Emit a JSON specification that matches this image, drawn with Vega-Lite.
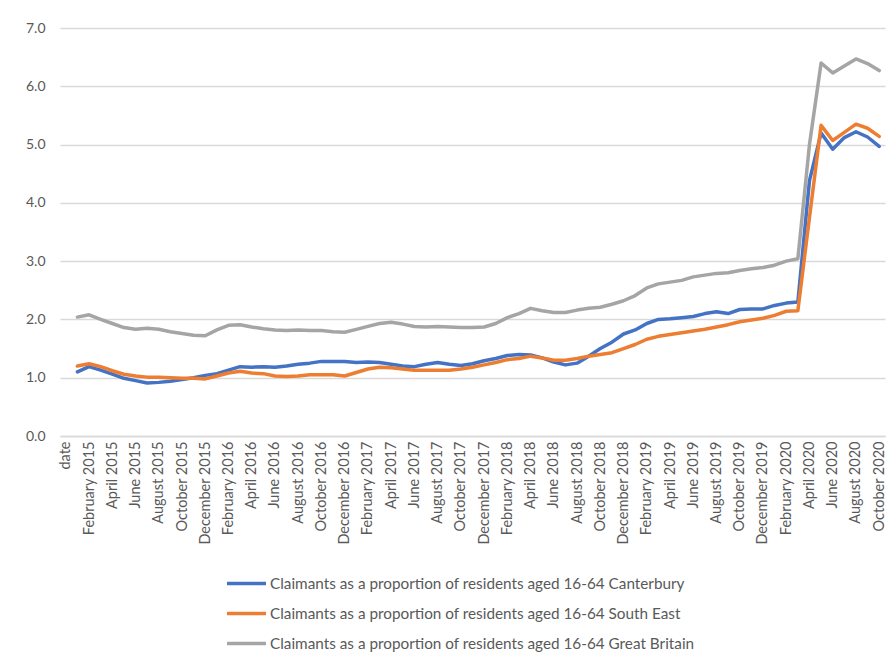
{
  "$schema": "https://vega.github.io/schema/vega-lite/v6.json",
  "width": 825,
  "height": 408,
  "autosize": "none",
  "padding": {"left": 60, "top": 28, "right": 8, "bottom": 228},
  "background": "white",
  "config": {
    "font": "Lato",
    "view": {"stroke": null},
    "axis": {"labelColor": "#595959", "labelFont": "Lato", "labelFontSize": 14}
  },
  "data": {
    "values": [
      {"month": "January 2015", "Canterbury": 1.10, "South East": 1.20, "Great Britain": 2.04},
      {"month": "February 2015", "Canterbury": 1.19, "South East": 1.24, "Great Britain": 2.08},
      {"month": "March 2015", "Canterbury": 1.13, "South East": 1.19, "Great Britain": 2.00},
      {"month": "April 2015", "Canterbury": 1.06, "South East": 1.12, "Great Britain": 1.93},
      {"month": "May 2015", "Canterbury": 0.99, "South East": 1.06, "Great Britain": 1.86},
      {"month": "June 2015", "Canterbury": 0.95, "South East": 1.03, "Great Britain": 1.83},
      {"month": "July 2015", "Canterbury": 0.91, "South East": 1.01, "Great Britain": 1.85},
      {"month": "August 2015", "Canterbury": 0.92, "South East": 1.01, "Great Britain": 1.83},
      {"month": "September 2015", "Canterbury": 0.94, "South East": 1.00, "Great Britain": 1.79},
      {"month": "October 2015", "Canterbury": 0.97, "South East": 0.99, "Great Britain": 1.76},
      {"month": "November 2015", "Canterbury": 1.00, "South East": 0.99, "Great Britain": 1.73},
      {"month": "December 2015", "Canterbury": 1.04, "South East": 0.98, "Great Britain": 1.72},
      {"month": "January 2016", "Canterbury": 1.07, "South East": 1.03, "Great Britain": 1.82},
      {"month": "February 2016", "Canterbury": 1.13, "South East": 1.08, "Great Britain": 1.90},
      {"month": "March 2016", "Canterbury": 1.19, "South East": 1.11, "Great Britain": 1.91},
      {"month": "April 2016", "Canterbury": 1.18, "South East": 1.08, "Great Britain": 1.87},
      {"month": "May 2016", "Canterbury": 1.19, "South East": 1.07, "Great Britain": 1.84},
      {"month": "June 2016", "Canterbury": 1.18, "South East": 1.03, "Great Britain": 1.82},
      {"month": "July 2016", "Canterbury": 1.20, "South East": 1.02, "Great Britain": 1.81},
      {"month": "August 2016", "Canterbury": 1.23, "South East": 1.03, "Great Britain": 1.82},
      {"month": "September 2016", "Canterbury": 1.25, "South East": 1.05, "Great Britain": 1.81},
      {"month": "October 2016", "Canterbury": 1.28, "South East": 1.05, "Great Britain": 1.81},
      {"month": "November 2016", "Canterbury": 1.28, "South East": 1.05, "Great Britain": 1.79},
      {"month": "December 2016", "Canterbury": 1.28, "South East": 1.03, "Great Britain": 1.78},
      {"month": "January 2017", "Canterbury": 1.26, "South East": 1.09, "Great Britain": 1.83},
      {"month": "February 2017", "Canterbury": 1.27, "South East": 1.15, "Great Britain": 1.88},
      {"month": "March 2017", "Canterbury": 1.26, "South East": 1.18, "Great Britain": 1.93},
      {"month": "April 2017", "Canterbury": 1.23, "South East": 1.17, "Great Britain": 1.95},
      {"month": "May 2017", "Canterbury": 1.20, "South East": 1.15, "Great Britain": 1.92},
      {"month": "June 2017", "Canterbury": 1.19, "South East": 1.13, "Great Britain": 1.88},
      {"month": "July 2017", "Canterbury": 1.23, "South East": 1.13, "Great Britain": 1.87},
      {"month": "August 2017", "Canterbury": 1.26, "South East": 1.13, "Great Britain": 1.88},
      {"month": "September 2017", "Canterbury": 1.23, "South East": 1.13, "Great Britain": 1.87},
      {"month": "October 2017", "Canterbury": 1.21, "South East": 1.15, "Great Britain": 1.86},
      {"month": "November 2017", "Canterbury": 1.24, "South East": 1.18, "Great Britain": 1.86},
      {"month": "December 2017", "Canterbury": 1.29, "South East": 1.22, "Great Britain": 1.87},
      {"month": "January 2018", "Canterbury": 1.33, "South East": 1.26, "Great Britain": 1.93},
      {"month": "February 2018", "Canterbury": 1.38, "South East": 1.31, "Great Britain": 2.03},
      {"month": "March 2018", "Canterbury": 1.40, "South East": 1.33, "Great Britain": 2.10},
      {"month": "April 2018", "Canterbury": 1.39, "South East": 1.37, "Great Britain": 2.19},
      {"month": "May 2018", "Canterbury": 1.34, "South East": 1.34, "Great Britain": 2.15},
      {"month": "June 2018", "Canterbury": 1.27, "South East": 1.30, "Great Britain": 2.12},
      {"month": "July 2018", "Canterbury": 1.22, "South East": 1.30, "Great Britain": 2.12},
      {"month": "August 2018", "Canterbury": 1.25, "South East": 1.33, "Great Britain": 2.16},
      {"month": "September 2018", "Canterbury": 1.37, "South East": 1.37, "Great Britain": 2.19},
      {"month": "October 2018", "Canterbury": 1.50, "South East": 1.40, "Great Britain": 2.21},
      {"month": "November 2018", "Canterbury": 1.61, "South East": 1.43, "Great Britain": 2.26},
      {"month": "December 2018", "Canterbury": 1.75, "South East": 1.50, "Great Britain": 2.32},
      {"month": "January 2019", "Canterbury": 1.82, "South East": 1.57, "Great Britain": 2.41},
      {"month": "February 2019", "Canterbury": 1.93, "South East": 1.66, "Great Britain": 2.54},
      {"month": "March 2019", "Canterbury": 2.00, "South East": 1.71, "Great Britain": 2.61},
      {"month": "April 2019", "Canterbury": 2.01, "South East": 1.74, "Great Britain": 2.64},
      {"month": "May 2019", "Canterbury": 2.03, "South East": 1.77, "Great Britain": 2.67},
      {"month": "June 2019", "Canterbury": 2.05, "South East": 1.80, "Great Britain": 2.73},
      {"month": "July 2019", "Canterbury": 2.10, "South East": 1.83, "Great Britain": 2.76},
      {"month": "August 2019", "Canterbury": 2.13, "South East": 1.87, "Great Britain": 2.79},
      {"month": "September 2019", "Canterbury": 2.10, "South East": 1.91, "Great Britain": 2.80},
      {"month": "October 2019", "Canterbury": 2.17, "South East": 1.96, "Great Britain": 2.84},
      {"month": "November 2019", "Canterbury": 2.18, "South East": 1.99, "Great Britain": 2.87},
      {"month": "December 2019", "Canterbury": 2.18, "South East": 2.02, "Great Britain": 2.89},
      {"month": "January 2020", "Canterbury": 2.24, "South East": 2.07, "Great Britain": 2.93},
      {"month": "February 2020", "Canterbury": 2.28, "South East": 2.14, "Great Britain": 3.00},
      {"month": "March 2020", "Canterbury": 2.30, "South East": 2.15, "Great Britain": 3.04},
      {"month": "April 2020", "Canterbury": 4.38, "South East": 3.75, "Great Britain": 5.00},
      {"month": "May 2020", "Canterbury": 5.20, "South East": 5.33, "Great Britain": 6.40},
      {"month": "June 2020", "Canterbury": 4.92, "South East": 5.07, "Great Britain": 6.23},
      {"month": "July 2020", "Canterbury": 5.12, "South East": 5.21, "Great Britain": 6.35},
      {"month": "August 2020", "Canterbury": 5.22, "South East": 5.35, "Great Britain": 6.47},
      {"month": "September 2020", "Canterbury": 5.13, "South East": 5.28, "Great Britain": 6.39},
      {"month": "October 2020", "Canterbury": 4.97, "South East": 5.14, "Great Britain": 6.27}
    ]
  },
  "transform": [
    {"fold": ["Canterbury", "South East", "Great Britain"], "as": ["series", "value"]}
  ],
  "mark": {"type": "line", "strokeWidth": 3.5, "strokeCap": "round", "strokeJoin": "round"},
  "encoding": {
    "x": {
      "field": "month",
      "type": "ordinal",
      "sort": null,
      "scale": {
        "type": "point",
        "padding": 0.5,
        "domain": ["date","January 2015","February 2015","March 2015","April 2015","May 2015","June 2015","July 2015","August 2015","September 2015","October 2015","November 2015","December 2015","January 2016","February 2016","March 2016","April 2016","May 2016","June 2016","July 2016","August 2016","September 2016","October 2016","November 2016","December 2016","January 2017","February 2017","March 2017","April 2017","May 2017","June 2017","July 2017","August 2017","September 2017","October 2017","November 2017","December 2017","January 2018","February 2018","March 2018","April 2018","May 2018","June 2018","July 2018","August 2018","September 2018","October 2018","November 2018","December 2018","January 2019","February 2019","March 2019","April 2019","May 2019","June 2019","July 2019","August 2019","September 2019","October 2019","November 2019","December 2019","January 2020","February 2020","March 2020","April 2020","May 2020","June 2020","July 2020","August 2020","September 2020","October 2020"]
      },
      "axis": {
        "title": null,
        "values": ["date","February 2015","April 2015","June 2015","August 2015","October 2015","December 2015","February 2016","April 2016","June 2016","August 2016","October 2016","December 2016","February 2017","April 2017","June 2017","August 2017","October 2017","December 2017","February 2018","April 2018","June 2018","August 2018","October 2018","December 2018","February 2019","April 2019","June 2019","August 2019","October 2019","December 2019","February 2020","April 2020","June 2020","August 2020","October 2020"],
        "labelAngle": -90,
        "labelAlign": "right",
        "labelBaseline": "middle",
        "labelPadding": 5,
        "labelOverlap": false,
        "labelFontSize": 14.5,
        "ticks": false,
        "domain": true,
        "domainColor": "#D9D9D9",
        "domainWidth": 1.5,
        "grid": false
      }
    },
    "y": {
      "field": "value",
      "type": "quantitative",
      "scale": {"domain": [0, 7], "nice": false},
      "axis": {
        "title": null,
        "values": [0, 1, 2, 3, 4, 5, 6, 7],
        "format": ".1f",
        "domain": false,
        "ticks": false,
        "labelPadding": 15,
        "gridColor": "#D9D9D9",
        "gridWidth": 1.5
      }
    },
    "color": {
      "field": "series",
      "type": "nominal",
      "scale": {
        "domain": ["Canterbury", "South East", "Great Britain"],
        "range": ["#4472C4", "#ED7D31", "#A5A5A5"]
      },
      "legend": {
        "title": null,
        "orient": "none",
        "legendX": 165,
        "legendY": 534,
        "direction": "vertical",
        "symbolType": "stroke",
        "symbolSize": 1520,
        "symbolStrokeWidth": 3.5,
        "labelExpr": "'Claimants as a proportion of residents aged 16-64 ' + datum.label",
        "labelFontSize": 15.3,
        "labelColor": "#595959",
        "labelFont": "Lato",
        "rowPadding": -8,
        "labelOffset": 2,
        "labelLimit": 700
      }
    }
  }
}
